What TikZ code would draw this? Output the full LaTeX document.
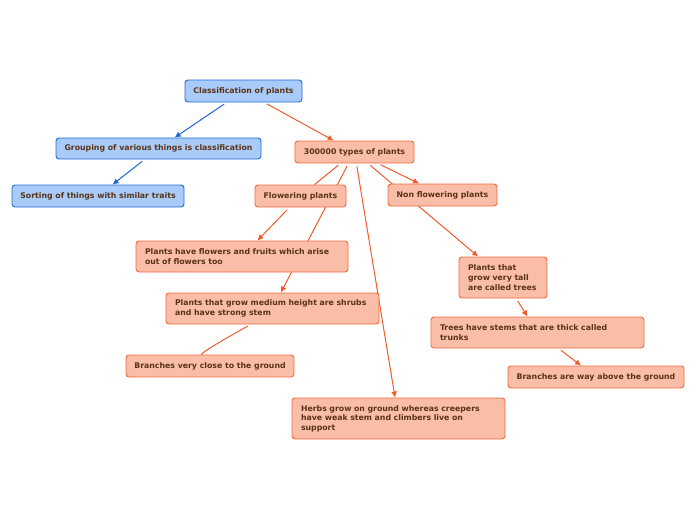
\documentclass[tikz,border=0pt]{standalone}
\usepackage{fontspec}
\setmainfont{DejaVu Sans}
\usetikzlibrary{arrows.meta,backgrounds,calc}
\definecolor{bfill}{HTML}{A8CBFA}
\definecolor{bdraw}{HTML}{1F6BD6}
\definecolor{ofill}{HTML}{F9BDA8}
\definecolor{odraw}{HTML}{F36A3C}
\definecolor{oline}{HTML}{F25A28}
\definecolor{bline}{HTML}{1E66D6}
\definecolor{txt}{HTML}{5A3415}
\tikzset{
  base/.style={rounded corners=3pt, line width=0.9pt, text=txt,
    font=\fontsize{7.8}{9.6}\selectfont\bfseries, inner sep=0pt},
  bluebox/.style={base, draw=bdraw, fill=bfill},
  orbox/.style={base, draw=odraw, fill=ofill},
  multi/.style={align=left, inner xsep=9pt},
  oconn/.style={draw=oline, line width=1pt, shorten <=3pt},
  bconn/.style={draw=bline, line width=1pt, shorten <=3pt},
  tip/.style={-{Latex[length=6pt,width=6pt]}}
}
\begin{document}
\begin{tikzpicture}[x=1pt,y=-1pt]
\useasboundingbox (0,0) rectangle (696,520);
\node[bluebox, minimum width=117pt, minimum height=22pt] (cls) at (243.5,91) {Classification of plants};
\node[bluebox, minimum width=205pt, minimum height=21pt] (grp) at (158.5,148.5) {Grouping of various things is classification};
\node[bluebox, minimum width=172pt, minimum height=22pt] (srt) at (98,196) {Sorting of things with similar traits};
\node[orbox, minimum width=119pt, minimum height=22pt] (t300) at (354.5,152) {300000 types of plants};
\node[orbox, minimum width=91pt, minimum height=22pt] (flw) at (300.5,196) {Flowering plants};
\node[orbox, minimum width=109pt, minimum height=22pt] (nfl) at (442.5,195) {Non flowering plants};
\node[orbox, multi, text width=194pt, minimum height=31pt] (pfl) at (242,256.5) {Plants have flowers and fruits which arise\\out of flowers too};
\node[orbox, multi, text width=195pt, minimum height=31pt] (shr) at (272.5,308.5) {Plants that grow medium height are shrubs\\and have strong stem};
\node[orbox, minimum width=168pt, minimum height=22pt] (brc) at (210,366) {Branches very close to the ground};
\node[orbox, multi, text width=70pt, minimum height=41pt] (tal) at (503,277.5) {Plants that\\grow very tall\\are called trees};
\node[orbox, multi, text width=195pt, minimum height=31pt] (trs) at (537.5,332.5) {Trees have stems that are thick called\\trunks};
\node[orbox, minimum width=176pt, minimum height=22pt] (bra) at (596,377) {Branches are way above the ground};
\node[orbox, multi, text width=195pt, minimum height=41pt] (hrb) at (398.5,418.5) {Herbs grow on ground whereas creepers\\have weak stem and climbers live on\\support};
\begin{pgfonlayer}{background}
\draw[bconn, tip] (cls) -- (grp);
\draw[bconn, tip] (grp) -- (srt);
\draw[oconn, tip] (cls) -- (t300);
\draw[oconn] (t300) -- (flw);
\draw[oconn, tip] (t300) -- (shr);
\draw[oconn, tip] (flw) -- (pfl);
\draw[oconn, tip] (t300) -- (nfl);
\draw[oconn, tip] (t300) -- (tal);
\draw[oconn, tip] (t300) -- (hrb);
\draw[oconn, tip] (tal) -- (trs);
\draw[oconn, tip] (trs) -- (bra);
\draw[draw=oline, line width=1pt] ($(shr.south)+(-24.5,1.5)$) .. controls ($(shr.south)+(-45,13)$) and ($(brc.north)+(-4,-5)$) .. ($(brc.north)+(-9,0)$);
\end{pgfonlayer}
\end{tikzpicture}
\end{document}
